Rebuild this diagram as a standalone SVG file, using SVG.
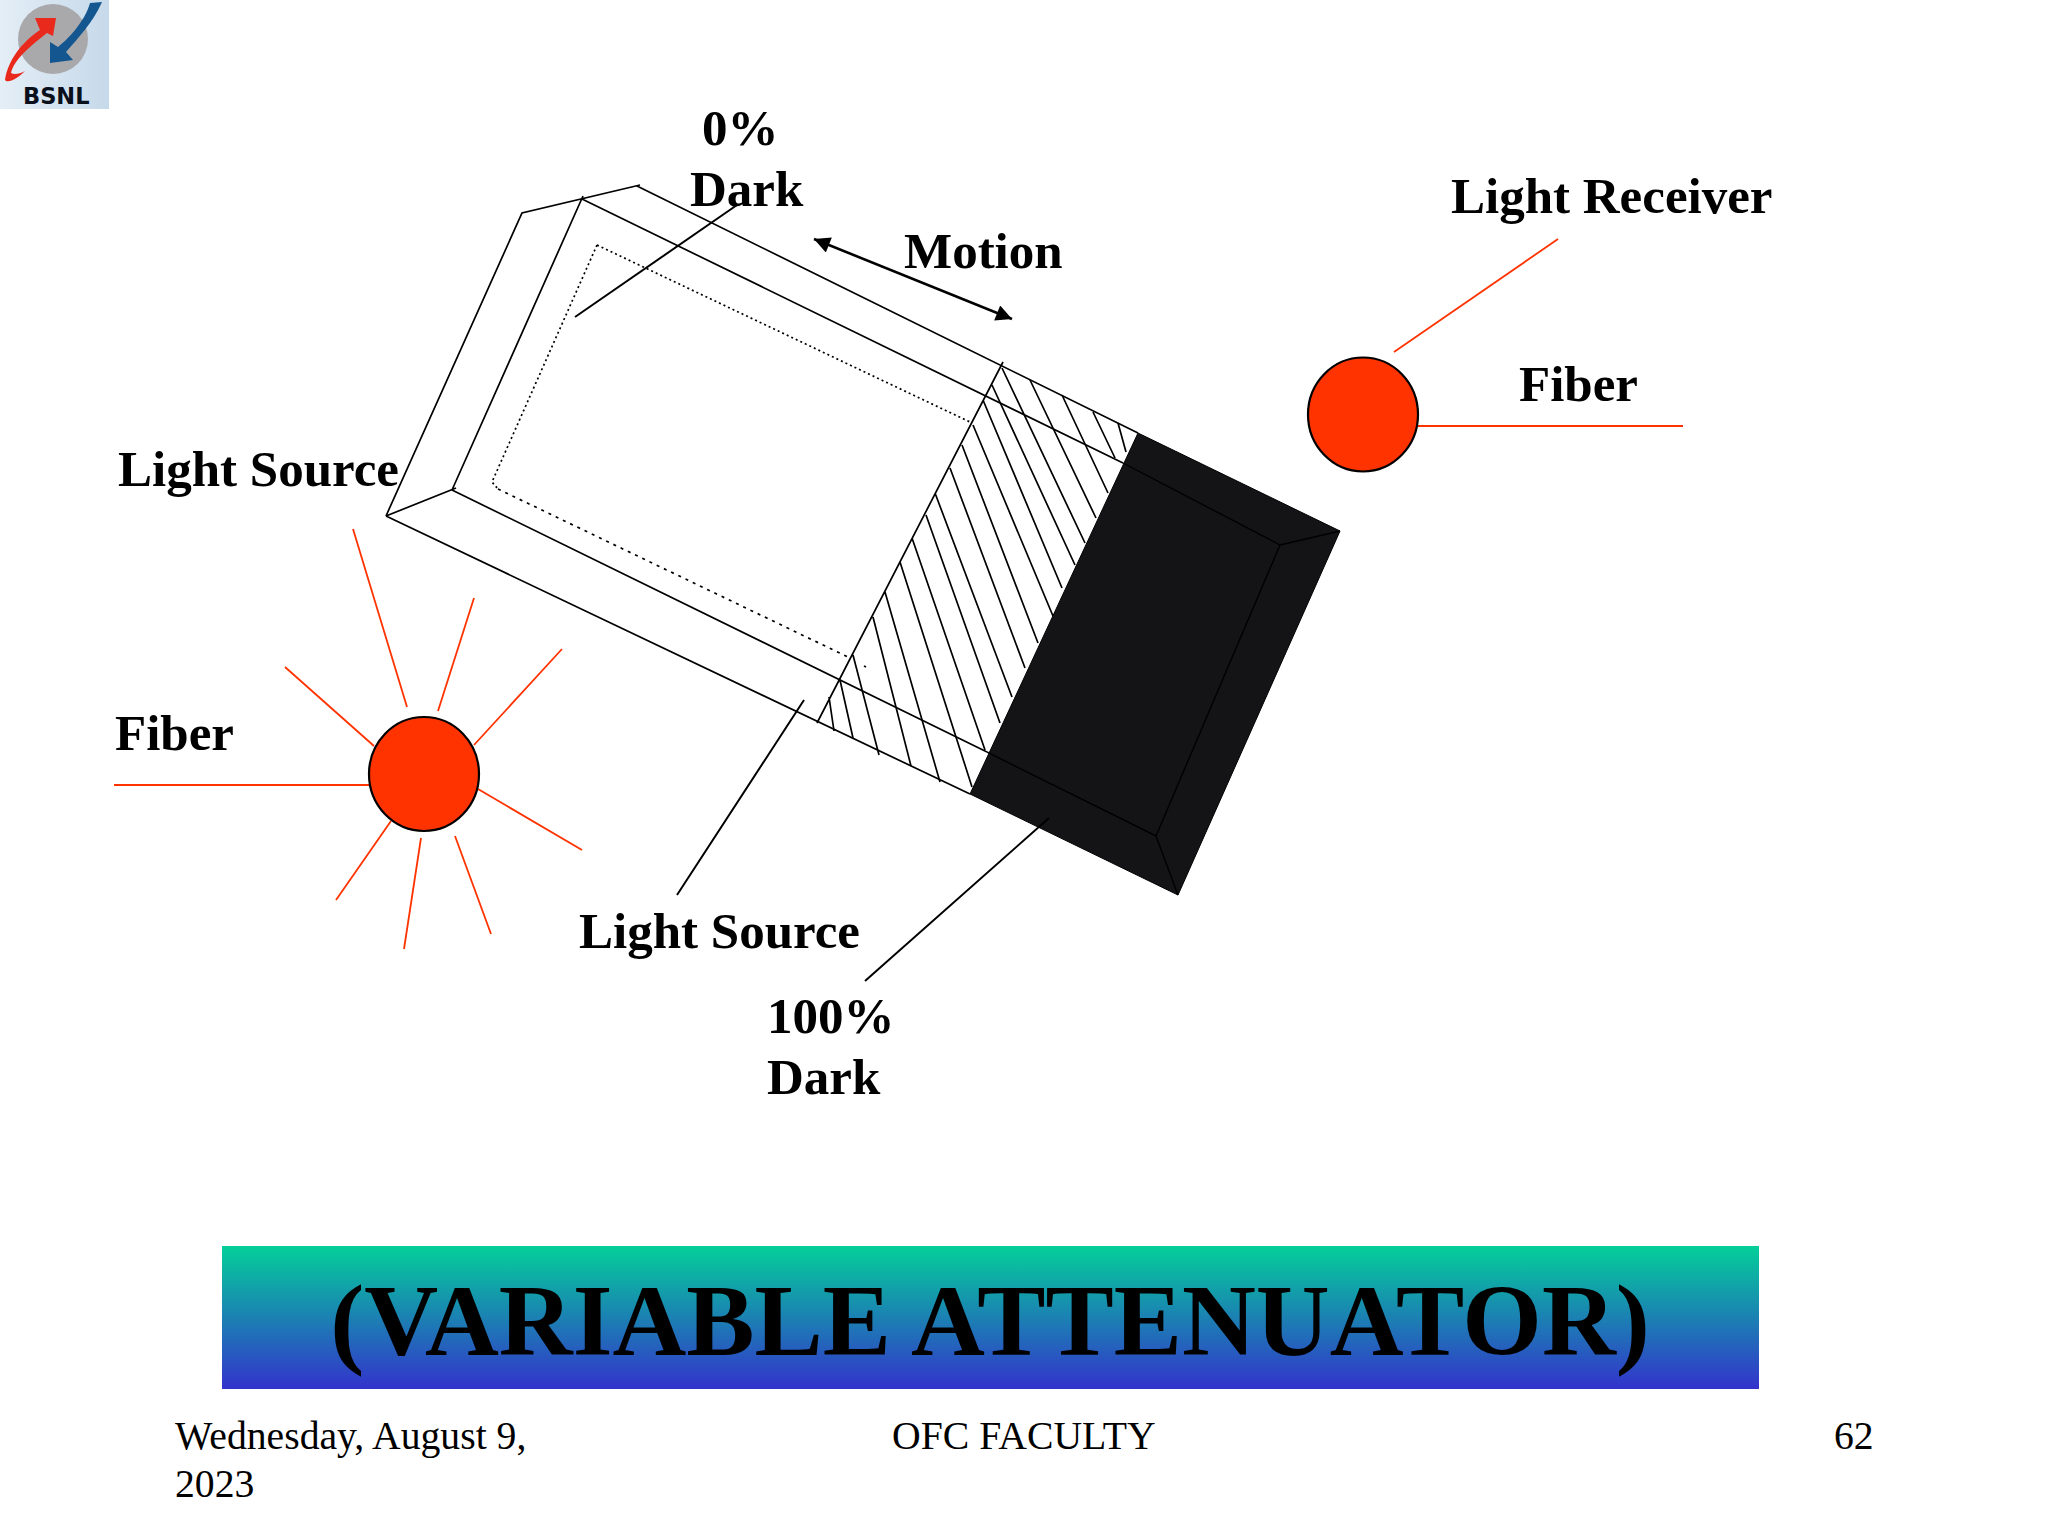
<svg xmlns="http://www.w3.org/2000/svg" width="2048" height="1536" viewBox="0 0 2048 1536">
<style>
.t{font:bold 51px "Liberation Serif","Times New Roman",serif;fill:#000}
.f{font:39.700px "Liberation Serif","Times New Roman",serif;fill:#000}
.k{fill:none;stroke:#000;stroke-width:1.7}
.r{fill:none;stroke:#ff3300;stroke-width:1.8}
.l{fill:none;stroke:#000;stroke-width:2}
.c{fill:#ff3300;stroke:#000;stroke-width:2.2}
</style>
<defs>
<linearGradient id="bar" x1="0" y1="0" x2="0" y2="1"><stop offset="0" stop-color="#04cf9a"/><stop offset="1" stop-color="#3333cc"/></linearGradient>
<linearGradient id="logoBg" x1="0" y1="0" x2="1" y2="0"><stop offset="0" stop-color="#e4eef6"/><stop offset="1" stop-color="#c6d9ea"/></linearGradient>
<marker id="ah" viewBox="0 0 10 10" refX="10" refY="5" markerWidth="18" markerHeight="16" orient="auto-start-reverse" markerUnits="userSpaceOnUse"><path d="M0 0L10 5L0 10Z" fill="#000"/></marker>
</defs>
<rect width="2048" height="1536" fill="#fff"/>
<g id="logo">
<rect width="109" height="109" fill="url(#logoBg)"/>
<ellipse cx="53" cy="39" rx="35" ry="35" fill="#a9a9ab"/>
<path d="M5 80C8 60 22 42 40 30L35 18L56 18L53 36L47 33C30 46 14 60 11 73C14 75 20 74 25 71C18 78 8 84 5 80Z" fill="#e8291c"/>
<path d="M102 2C92 24 78 38 66 52L73 60L50 63L50 42L58 47C72 36 86 18 90 3Z" fill="#14568f"/>
<text x="23" y="104" style="font:bold 22.500px 'DejaVu Sans',Arial,sans-serif;fill:#0a0f1c">BSNL</text>
</g>
<g id="attenuator">
<path class="k" d="M640 185L522 213L386 516M637 186L1138 433M386 516L970 794M583 196L452 490M386 516L456 488M582 199L1123 463M452 490L987 752"/>
<path class="k" stroke-width="1.500" stroke-dasharray="2 3" d="M597 245L970 422M597 245L492 482L498 489"/>
<path class="k" stroke-width="1.500" stroke-dasharray="3 5" d="M498 489L848 657M864 666L866 667"/>
<path class="k" d="M1003 362L817 723M1118 423L1126 452M1093 412L1115 458M1062 395L1108 493M1030 380L1096 518M1002 368L1085 543M992 385L1075 565M983 400L1062 588M973 425L1053 616M962 445L1038 643M950 468L1025 668M935 493L1012 697M926 515L1000 723M912 538L985 750M900 562L972 787M885 592L940 782M873 617L911 766M853 655L879 755M840 680L853 738M829 697L834 731"/>
<path d="M1138 433L1340 531L1178 895L970 794Z" fill="#141417" stroke="#000" stroke-width="1"/>
<path fill="none" stroke="#000" stroke-width="1.400" d="M1123 463L1280 545L1156 836L987 752M1280 545L1340 531M1156 836L1178 895"/>
</g>
<g id="connectors">
<path class="l" d="M575 317L737 205"/>
<path stroke="#000" stroke-width="2.600" fill="none" marker-start="url(#ah)" marker-end="url(#ah)" d="M814 239L1012 319"/>
<path class="l" d="M804 700L677 895M1049 818L865 981"/>
<path class="r" d="M353 529L407 707M474 598L438 711M562 649L474 745M285 667L374 746M114 785L370 785M478 789L582 850M455 836L491 934M421 838L404 949M391 821L336 900M1558 239L1394 352M1418 426L1683 426"/>
</g>
<g id="source"><ellipse class="c" cx="424" cy="774" rx="55" ry="57"/></g>
<g id="receiver"><ellipse class="c" cx="1363" cy="414.500" rx="55" ry="57"/></g>
<g id="labels">
<text class="t" x="702" y="145">0%</text>
<text class="t" x="690" y="206">Dark</text>
<text class="t" x="904" y="268">Motion</text>
<text class="t" x="1451" y="213">Light Receiver</text>
<text class="t" x="1519" y="401">Fiber</text>
<text class="t" x="118" y="486">Light Source</text>
<text class="t" x="115" y="750">Fiber</text>
<text class="t" x="579" y="948">Light Source</text>
<text class="t" x="767" y="1033">100%</text>
<text class="t" x="767" y="1094">Dark</text>
</g>
<g id="title">
<rect x="222" y="1246" width="1537" height="143" fill="url(#bar)"/>
<text x="990" y="1355" text-anchor="middle" style="font:bold 102.300px 'Liberation Serif','Times New Roman',serif;fill:#000">(VARIABLE ATTENUATOR)</text>
</g>
<g id="footer">
<text class="f" x="175" y="1449">Wednesday, August 9,</text>
<text class="f" x="175" y="1497">2023</text>
<text class="f" x="892" y="1449">OFC FACULTY</text>
<text class="f" x="1834" y="1449">62</text>
</g>
</svg>
